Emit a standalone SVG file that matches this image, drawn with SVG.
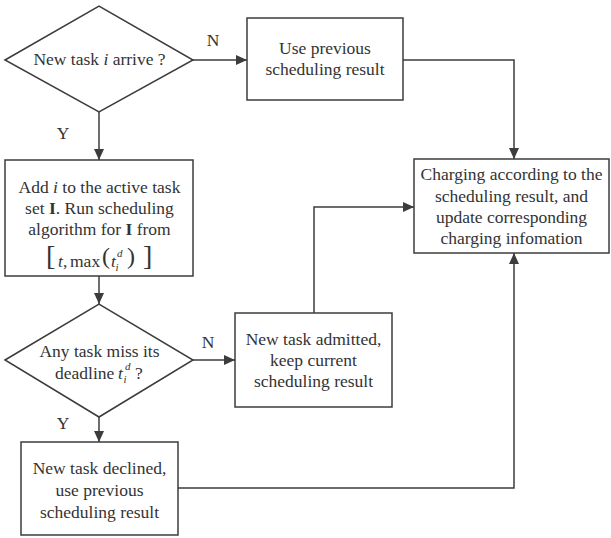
<svg xmlns="http://www.w3.org/2000/svg" width="611" height="538" viewBox="0 0 611 538">
<style>
.shape{fill:#fff;stroke:#3c3c3c;stroke-width:1.5}
.conn{fill:none;stroke:#3c3c3c;stroke-width:1.5}
text{font-family:"Liberation Serif","Times New Roman",serif;font-size:17.5px;fill:#333}
.c{text-anchor:middle}
.it{font-style:italic}
.b{font-weight:bold}
.sm{font-size:11px}
</style>
<defs>
<marker id="arr" markerUnits="userSpaceOnUse" markerWidth="11" markerHeight="10" refX="11" refY="5" orient="auto">
<path d="M0,0 L11,5 L0,10 z" fill="#3c3c3c"/>
</marker>
</defs>
<rect width="611" height="538" fill="#fff"/>
<g id="connectors">
<path class="conn" d="M193,60 H247" marker-end="url(#arr)"/>
<path class="conn" d="M99,112 V160" marker-end="url(#arr)"/>
<path class="conn" d="M403,60 H514 V159" marker-end="url(#arr)"/>
<path class="conn" d="M99,276 V304" marker-end="url(#arr)"/>
<path class="conn" d="M193,360 H235" marker-end="url(#arr)"/>
<path class="conn" d="M99,417 V442" marker-end="url(#arr)"/>
<path class="conn" d="M314,313 V207 H414" marker-end="url(#arr)"/>
<path class="conn" d="M178,488 H514 V253" marker-end="url(#arr)"/>
<text x="213" y="46" class="c">N</text>
<text x="63" y="139" class="c">Y</text>
<text x="208" y="348" class="c">N</text>
<text x="63" y="429" class="c">Y</text>
</g>
<g id="decision-arrive">
<polygon class="shape" points="5,60 99,6 193,60 99,112"/>
<text x="99.5" y="65" class="c">New task <tspan class="it">i</tspan> arrive ?</text>
</g>
<g id="use-previous">
<rect class="shape" x="247" y="18" width="156" height="82"/>
<text x="325" y="54" class="c">Use previous</text>
<text x="325" y="75" class="c">scheduling result</text>
</g>
<g id="add-task">
<rect class="shape" x="5" y="160" width="188" height="116"/>
<text x="99.5" y="193" class="c">Add <tspan class="it">i</tspan> to the active task</text>
<text x="99.5" y="214" class="c">set <tspan class="b">I</tspan>. Run scheduling</text>
<text x="99.5" y="235" class="c">algorithm for <tspan class="b">I</tspan> from</text>
<text x="46" y="265" style="font-size:28px">[</text>
<text x="58" y="267" class="it">t</text>
<text x="63" y="267">,</text>
<text x="70" y="267">max</text>
<text x="102" y="264" style="font-size:24px">(</text>
<text x="111" y="267" class="it">t</text>
<text x="117" y="257" class="it sm">d</text>
<text x="115.5" y="271" class="it sm">i</text>
<text x="127" y="264" style="font-size:24px">)</text>
<text x="143" y="265" style="font-size:28px">]</text>
</g>
<g id="decision-deadline">
<polygon class="shape" points="5,360 99,304 193,360 99,417"/>
<text x="99.5" y="357" class="c">Any task miss its</text>
<text x="55" y="379">deadline</text>
<text x="118" y="379" class="it">t</text>
<text x="125" y="370" class="it sm">d</text>
<text x="123.5" y="383" class="it sm">i</text>
<text x="135" y="379">?</text>
</g>
<g id="admitted">
<rect class="shape" x="235" y="313" width="157" height="94"/>
<text x="313.5" y="345" class="c">New task admitted,</text>
<text x="313.5" y="366" class="c">keep current</text>
<text x="313.5" y="387" class="c">scheduling result</text>
</g>
<g id="declined">
<rect class="shape" x="21" y="442" width="157" height="93"/>
<text x="99.5" y="474" class="c">New task declined,</text>
<text x="99.5" y="496" class="c">use previous</text>
<text x="99.5" y="518" class="c">scheduling result</text>
</g>
<g id="charging">
<rect class="shape" x="414" y="159" width="195" height="94"/>
<text x="511.5" y="180" class="c">Charging according to the</text>
<text x="511.5" y="202" class="c">scheduling result, and</text>
<text x="511.5" y="223" class="c">update corresponding</text>
<text x="511.5" y="244" class="c">charging infomation</text>
</g>
</svg>
